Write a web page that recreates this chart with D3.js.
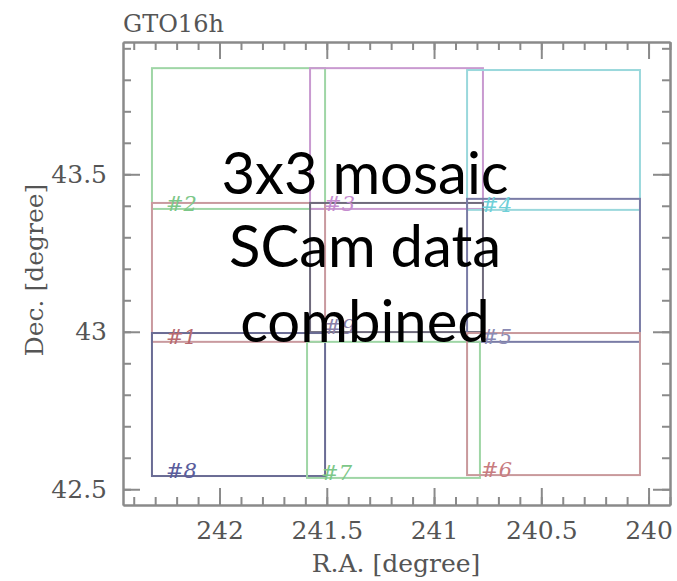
<!DOCTYPE html>
<html>
    <head>
        <meta http-equiv="Content-Type" content="text/html; charset=UTF-8">
        <script src="https://d3js.org/d3.v7.min.js"></script>
        <style>
            html, body {
                margin: 0;
                padding: 0;
                background-color: white;
            }
            svg {
                display: block;
            }
            .axis text {
                font-family: 'DejaVu Serif', serif;
                font-size: 25px;
                fill: #555;
            }
            .axis path, .axis line {
                stroke: #8a8a8a;
                stroke-width: 2;
            }
        </style>
        <title>GTO16h mosaic</title>
    </head>
    <body>
        <script>
            // field layout of the 3x3 mosaic (degrees)
            var fieldNames = ['#2', '#3', '#4', '#1', '#9', '#5', '#8', '#7', '#6'];
            var raMax = [242.315, 241.578, 240.846, 242.315, 241.578, 240.846, 242.315, 241.592, 240.846];
            var raMin = [241.508, 240.772, 240.040, 241.508, 240.772, 240.040, 241.508, 240.786, 240.040];
            var decMax = [43.837, 43.837, 43.831, 43.409, 43.409, 43.422, 42.996, 42.968, 42.996];
            var decMin = [43.390, 43.390, 43.387, 42.968, 42.999, 42.968, 42.542, 42.536, 42.545];

            var xMajor = [242, 241.5, 241, 240.5, 240];
            var yMajor = [42.5, 43, 43.5];
            var overlayLines = ['3x3 mosaic', 'SCam data', 'combined'];

            // styles
            var lineColors = ['#9fd6a6', '#c99ad0', '#9ad8dc', '#c99a9f', '#6f6a7c', '#7a7ca6', '#6a6c94', '#9fd6a6', '#c9999c'];
            var labelColors = ['#7cc788', '#c58ccf', '#6fd0d8', '#b86a70', '#8a80a8', '#8a8ab4', '#5a5c9c', '#7cc788', '#c87c80'];

            var ww = 677, hh = 581;
            var svg = d3.select('body').append('svg').attr('width', ww).attr('height', hh);

            var x = d3.scaleLinear().domain([242.45, 239.9]).range([123, 670]);
            var y = d3.scaleLinear().domain([42.45, 43.92]).range([505, 42]);

            var xMinor = d3.range(239.9, 242.45, 0.1).map(function(d) { return +d.toFixed(1); });
            var yMinor = d3.range(42.5, 43.92, 0.1).map(function(d) { return +d.toFixed(1); });

            var fields = fieldNames.map(function(n, i) {
                return {name: n, x0: raMax[i], x1: raMin[i], y0: decMax[i], y1: decMin[i],
                        color: lineColors[i], lcolor: labelColors[i]};
            });

            // field rectangles
            svg.append('g').selectAll('rect').data(fields).enter().append('rect')
                .attr('x', function(d) { return x(d.x0); })
                .attr('y', function(d) { return y(d.y0); })
                .attr('width', function(d) { return x(d.x1) - x(d.x0); })
                .attr('height', function(d) { return y(d.y1) - y(d.y0); })
                .style('fill', 'none')
                .style('stroke', function(d) { return d.color; })
                .style('stroke-width', 2);

            svg.append('g').selectAll('text').data(fields).enter().append('text')
                .attr('x', function(d) { return x(d.x0) + 14; })
                .attr('y', function(d) { return y(d.y1) + 2; })
                .text(function(d) { return d.name; })
                .style('font-family', "'DejaVu Serif', serif")
                .style('font-style', 'italic')
                .style('font-size', '21px')
                .style('fill', function(d) { return d.lcolor; });

            // frame with inward ticks on all four sides
            function noLabel() { return ''; }
            svg.append('g').attr('class', 'axis').attr('transform', 'translate(0,505)')
                .call(d3.axisBottom(x).tickValues(xMinor).tickSizeInner(-8).tickSizeOuter(0).tickFormat(noLabel));
            svg.append('g').attr('class', 'axis').attr('transform', 'translate(0,505)')
                .call(d3.axisBottom(x).tickValues(xMajor).tickSizeInner(-17).tickSizeOuter(0).tickPadding(16).tickFormat(d3.format('')));
            svg.append('g').attr('class', 'axis').attr('transform', 'translate(0,42)')
                .call(d3.axisTop(x).tickValues(xMinor).tickSizeInner(-8).tickSizeOuter(0).tickFormat(noLabel));
            svg.append('g').attr('class', 'axis').attr('transform', 'translate(0,42)')
                .call(d3.axisTop(x).tickValues(xMajor).tickSizeInner(-17).tickSizeOuter(0).tickFormat(noLabel));

            svg.append('g').attr('class', 'axis').attr('transform', 'translate(123,0)')
                .call(d3.axisLeft(y).tickValues(yMinor).tickSizeInner(-8).tickSizeOuter(0).tickFormat(noLabel));
            svg.append('g').attr('class', 'axis').attr('transform', 'translate(123,0)')
                .call(d3.axisLeft(y).tickValues(yMajor).tickSizeInner(-17).tickSizeOuter(0).tickPadding(16).tickFormat(d3.format('')));
            svg.append('g').attr('class', 'axis').attr('transform', 'translate(670,0)')
                .call(d3.axisRight(y).tickValues(yMinor).tickSizeInner(-8).tickSizeOuter(0).tickFormat(noLabel));
            svg.append('g').attr('class', 'axis').attr('transform', 'translate(670,0)')
                .call(d3.axisRight(y).tickValues(yMajor).tickSizeInner(-17).tickSizeOuter(0).tickFormat(noLabel));

            // titles
            var serif = "'DejaVu Serif', serif";
            svg.append('text').attr('x', 123).attr('y', 32).text('GTO16h')
                .style('font-family', serif).style('font-size', '24px').style('fill', '#555');
            svg.append('text').attr('x', 396).attr('y', 572).attr('text-anchor', 'middle').text('R.A. [degree]')
                .style('font-family', serif).style('font-size', '25px').style('fill', '#555');
            svg.append('text').attr('transform', 'translate(43,270) rotate(-90)').attr('text-anchor', 'middle')
                .text('Dec. [degree]')
                .style('font-family', serif).style('font-size', '25px').style('fill', '#555');

            // overlay caption
            var baselines = [194, 267, 342];
            svg.append('g').selectAll('text').data(overlayLines).enter().append('text')
                .attr('x', 365)
                .attr('y', function(d, i) { return baselines[i]; })
                .attr('text-anchor', 'middle')
                .text(function(d) { return d; })
                .style('font-family', 'Lato, sans-serif')
                .style('font-size', '58px')
                .style('fill', 'black');
        </script>
    </body>
</html>
